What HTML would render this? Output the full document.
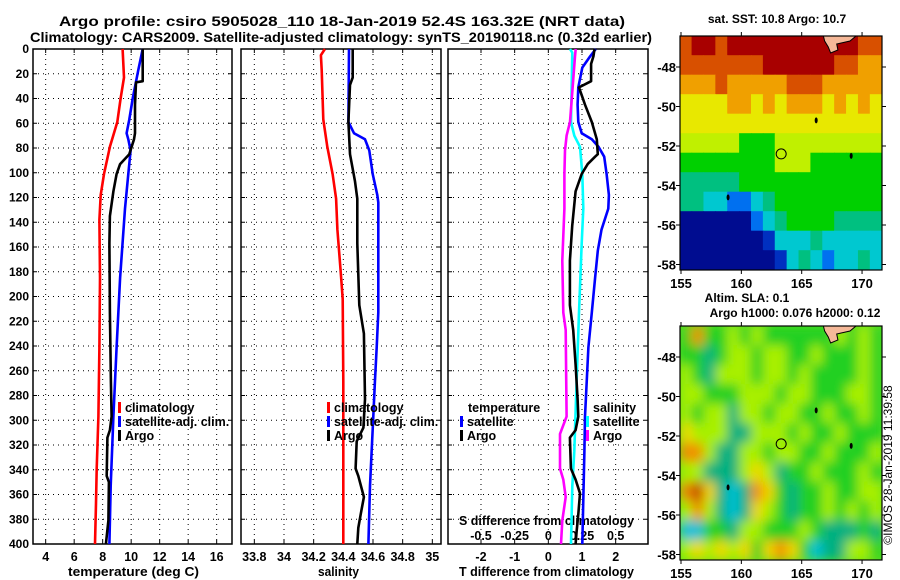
<!DOCTYPE html>
<html><head><meta charset="utf-8"><style>
body{margin:0;background:#fff;}
svg{display:block;font-family:"Liberation Sans",Arial,sans-serif;font-weight:bold;}
</style></head><body>
<svg id="chart" width="900" height="580" viewBox="0 0 900 580" xmlns="http://www.w3.org/2000/svg">
<defs>
<clipPath id="clipTop"><rect x="680" y="36" width="202" height="234"/></clipPath>
<clipPath id="clipBot"><rect x="680" y="326" width="202" height="234"/></clipPath>
<filter id="blur" x="-10%" y="-10%" width="120%" height="120%"><feGaussianBlur stdDeviation="5.5"/></filter>
</defs>
<g id="root"></g>
</svg>
<script>
// ---- data ----
const tempDepthClim=[0,23,40,59,79,101,118,138,185,241,297,339,367,400];
const tempClim=[9.40,9.50,9.26,9.03,8.51,8.09,7.86,7.77,7.81,7.77,7.70,7.58,7.53,7.46];
const tempDepthSat=[0,17,40,57,68,73,82,101,129,185,241,297,353,400];
const tempSat=[10.81,10.50,10.11,9.87,9.68,9.80,9.96,9.80,9.57,9.22,8.98,8.75,8.56,8.47];
const tempDepthArgo=[0,26,27,45,68,73,85,93,101,115,135,157,213,269,297,308,314,345,350,381,400];
const tempArgo=[10.81,10.81,10.34,10.27,10.27,10.20,9.87,9.22,8.98,8.75,8.51,8.47,8.51,8.58,8.63,8.51,8.33,8.28,8.44,8.40,8.23];

const salDepthClim=[0,5,17,57,79,101,121,146,180,202,269,400];
const salClim=[34.276,34.249,34.254,34.265,34.292,34.328,34.351,34.360,34.382,34.396,34.400,34.400];
const salDepthSat=[0,59,68,73,82,101,118,124,213,241,269,297,353,400];
const salSat=[34.438,34.434,34.472,34.546,34.575,34.598,34.629,34.636,34.636,34.625,34.613,34.602,34.580,34.569];
const salDepthArgo=[0,23,29,59,85,107,121,157,207,230,283,306,317,339,345,362,376,387,400];
const salArgo=[34.463,34.463,34.445,34.434,34.445,34.479,34.494,34.494,34.508,34.539,34.546,34.535,34.490,34.483,34.501,34.539,34.517,34.501,34.494];

const dTDepthSat=[0,6,15,31,45,59,68,73,79,87,101,118,129,146,163,185,213,241,269,297,325,400];
const dTSat=[1.41,1.24,1.01,0.89,0.87,0.89,0.99,1.29,1.49,1.66,1.73,1.80,1.78,1.58,1.47,1.39,1.29,1.19,1.14,1.09,1.07,1.01];
const dTDepthArgo=[0,6,12,26,31,45,59,73,85,87,93,101,115,143,171,207,227,255,283,297,308,314,339,348,359,376,390,400];
const dTArgo=[1.37,1.34,1.27,1.27,0.91,1.09,1.29,1.44,1.47,1.39,1.17,0.99,0.81,0.71,0.64,0.64,0.74,0.81,0.87,0.89,0.81,0.64,0.67,0.81,0.94,0.89,0.84,0.81];
const dSDepthSat=[0,3,59,70,79,101,129,157,213,269,325,353,400];
const dSSat=[0.161,0.178,0.168,0.193,0.235,0.252,0.260,0.248,0.228,0.210,0.193,0.178,0.168];
const dSDepthArgo=[0,6,59,70,82,101,129,171,213,227,297,311,339,348,362,381,400];
const dSArgo=[0.203,0.198,0.161,0.136,0.124,0.119,0.119,0.104,0.111,0.129,0.136,0.087,0.087,0.111,0.129,0.104,0.094];

const depthTicks=[0,20,40,60,80,100,120,140,160,180,200,220,240,260,280,300,320,340,360,380,400];
const tempTicks=[4,6,8,10,12,14,16];
const salTicks=[33.8,34,34.2,34.4,34.6,34.8,35];
const salTickLabels=["33.8","34","34.2","34.4","34.6","34.8","35"];
const dTTicks=[-2,-1,0,1,2];
const dSTicks=[-0.5,-0.25,0,0.25,0.5];
const dSTickLabels=["-0.5","-0.25","0","0.25","0.5"];
const lonTicks=[155,160,165,170];
const latTicks=[-48,-50,-52,-54,-56,-58];
const argoLon=163.3, argoLat=-52.4;

const sstRows=[
"ORRORRRRRRRRRRROO",
"OOOOOOORRRRRROOoo",
"oooOoooooOOOooooo",
"YYYYooYoYoooYoYoY",
"YYYYYYYYYYYYYYYYY",
"yyyyyGGGyyyyyyyyy",
"GGGGGGGGyyyGGGGGG",
"gggggGGGGGGGGGGGG",
"ggCCBBCgGGGGGGGGG",
"NNNNNNBCgGGGGgggg",
"NNNNNNNnCCCgCCCCC",
"NNNNNNNNnCgCBCCgC"];
const slaRows=[
"GOGGLGLGGGGGGLGLG",
"GGTGLLGLLGGLGGGLG",
"LGTLLLGLLGLGGGGLG",
"LLGGGLLLGLLGGGLLG",
"LGLLTLLGLLGGLGGLG",
"YLLLTTLLLGLGGLGGG",
"OOLTTLLGLLGGLGGGL",
"LLTTTLYLTGGLGGGLG",
"ORYTCTOYGTGGLGGLL",
"LOLTCTYLGTGGLGLGL",
"CCGGTLLGGGLGTTTGT",
"LYLYLYGYOYGCTTLLG"];
const sstColors={R:"#a80000",O:"#d85000",o:"#f0a000",Y:"#e8e800",y:"#c0f000",G:"#00d000",g:"#00c080",C:"#00c8d0",B:"#0070f0",n:"#0030c0",N:"#000c90"};
const slaColors={G:"#20d020",L:"#a8f000",Y:"#f0d800",O:"#f09000",R:"#c04000",T:"#00b080",C:"#00c0d8"};

// ---- helpers ----
const NS="http://www.w3.org/2000/svg";
const root=document.getElementById('root');
function el(tag,attrs,parent,text){const e=document.createElementNS(NS,tag);for(const k in attrs)e.setAttribute(k,attrs[k]);if(text!==undefined)e.textContent=text;(parent||root).appendChild(e);return e;}
const Y0=49,Y1=544;
const yD=d=>Y0+d*(Y1-Y0)/400;
const xT=t=>45.67+(t-4)*14.25;
const xS=s=>254.33+(s-33.8)*148.33;
const xDT=v=>548.33+v*33.67;
const xDS=v=>548.33+v*134.67;
const panels=[{x0:33,x1:232,name:'temperature-panel'},{x0:241,x1:441,name:'salinity-panel'},{x0:448,x1:648,name:'difference-panel'}];

function series(xs,ds,xf,color,name,parent){
  const pts=xs.map((v,i)=>xf(v).toFixed(1)+','+yD(ds[i]).toFixed(1)).join(' ');
  const p=el('polyline',{points:pts,fill:'none',stroke:color,'stroke-width':2.6,'stroke-linejoin':'round'},parent);
  
  
}

// titles
let t=el('text',{x:59,y:26,'font-size':13.5,textLength:566,lengthAdjust:'spacingAndGlyphs'},root,'Argo profile: csiro 5905028_110 18-Jan-2019 52.4S 163.32E (NRT data)');

t=el('text',{x:30,y:42,'font-size':13.5,textLength:622,lengthAdjust:'spacingAndGlyphs'},root,'Climatology: CARS2009. Satellite-adjusted climatology: synTS_20190118.nc (0.32d earlier)');


// panels
panels.forEach((p,pi)=>{
  const g=el('g',{},root);
  
  
  depthTicks.forEach(d=>{ if(d>0&&d<400) el('line',{x1:p.x0,x2:p.x1,y1:yD(d),y2:yD(d),stroke:'#000','stroke-width':1,'stroke-dasharray':'1,4'},g);
    el('line',{x1:p.x0,x2:p.x0+4,y1:yD(d),y2:yD(d),stroke:'#000'},g);
    el('line',{x1:p.x1-4,x2:p.x1,y1:yD(d),y2:yD(d),stroke:'#000'},g);});
  let xt=pi==0?tempTicks.map(xT):pi==1?salTicks.map(xS):dTTicks.map(xDT);
  xt.forEach(x=>{el('line',{x1:x,x2:x,y1:Y0,y2:Y1,stroke:'#000','stroke-dasharray':'1,4'},g);
    el('line',{x1:x,x2:x,y1:Y1-4,y2:Y1,stroke:'#000'},g);el('line',{x1:x,x2:x,y1:Y0,y2:Y0+4,stroke:'#000'},g);});
  el('rect',{x:p.x0,y:Y0,width:p.x1-p.x0,height:Y1-Y0,fill:'none',stroke:'#000','stroke-width':1.5},g);
});
// y axis labels
const ya=el('g',{},root);
depthTicks.forEach(d=>el('text',{x:29,y:yD(d)+4,'text-anchor':'end','font-size':12},ya,String(d)));

// x axes
function xAxis(ticks,labels,xf,y,name){const g=el('g',{},root);
  ticks.forEach((v,i)=>el('text',{x:xf(v),y:y,'text-anchor':'middle','font-size':12.5},g,labels[i]));}
xAxis(tempTicks,tempTicks.map(String),xT,561,'x-axis-temperature');
xAxis(salTicks,salTickLabels,xS,561,'x-axis-salinity');
xAxis(dTTicks,dTTicks.map(String),xDT,561,'x-axis-t-difference');
xAxis(dSTicks,dSTickLabels,xDS,540,'x-axis-s-difference');
const titles=[[68,576,'temperature (deg C)','x-axis-title-temperature',131],[318,576,'salinity','x-axis-title-salinity',41],[459,576,'T difference from climatology','x-axis-title-t-difference',175],[459,525,'S difference from climatology','x-axis-title-s-difference',175]];
titles.forEach(a=>{const e=el('text',{x:a[0],y:a[1],'font-size':12.5,textLength:a[4],lengthAdjust:'spacingAndGlyphs'},root,a[2]);});

// series
series(tempClim,tempDepthClim,xT,'#ff0000','temp-climatology-line');
series(tempSat,tempDepthSat,xT,'#0000ff','temp-satellite-line');
series(tempArgo,tempDepthArgo,xT,'#000000','temp-argo-line');
series(salClim,salDepthClim,xS,'#ff0000','sal-climatology-line');
series(salSat,salDepthSat,xS,'#0000ff','sal-satellite-line');
series(salArgo,salDepthArgo,xS,'#000000','sal-argo-line');
series(dSSat,dSDepthSat,xDS,'#00ffff','sdiff-satellite-line');
series(dSArgo,dSDepthArgo,xDS,'#ff00ff','sdiff-argo-line');
series(dTSat,dTDepthSat,xDT,'#0000ff','tdiff-satellite-line');
series(dTArgo,dTDepthArgo,xDT,'#000000','tdiff-argo-line');

// legends
function legend(x,y,color,label,name){const g=el('g',{},root);
  if(color) el('rect',{x:x,y:y-10,width:3,height:11,fill:color},g);
  el('text',{x:x+(color?7:0),y:y,'font-size':12.5},g,label);}
legend(118,412,'#ff0000','climatology','legend-temp-climatology');
legend(118,426,'#0000ff','satellite-adj. clim.','legend-temp-satellite');
legend(118,440,'#000000','Argo','legend-temp-argo');
legend(327,412,'#ff0000','climatology','legend-sal-climatology');
legend(327,426,'#0000ff','satellite-adj. clim.','legend-sal-satellite');
legend(327,440,'#000000','Argo','legend-sal-argo');
legend(468,412,null,'temperature','legend-temperature-header');
legend(460,426,'#0000ff','satellite','legend-tdiff-satellite');
legend(460,440,'#000000','Argo','legend-tdiff-argo');
legend(593,412,null,'salinity','legend-salinity-header');
legend(586,426,'#00ffff','satellite','legend-sdiff-satellite');
legend(586,440,'#ff00ff','Argo','legend-sdiff-argo');

// maps
function map(rows,colors,top,name,blur){
  const g=el('g',{},root);
  const x0=680,w=202,h=234;
  const lonX=lon=>681+(lon-155)*12.07;
  const latY=lat=>top+31+(-48-lat)*19.75;
  const cg=el('g',{'clip-path':'url(#'+(blur?'clipBot':'clipTop')+')'},g);
  if(blur) el('rect',{x:x0,y:top,width:w,height:h,fill:'#60e020'},cg);
  const inner=el('g',blur?{filter:'url(#blur)'}:{},cg);
  const cw=w/rows[0].length,rh=h/rows.length;
  rows.forEach((r,ri)=>{for(let ci=0;ci<r.length;ci++){
    const c=el('rect',{x:x0+ci*cw-0.3,y:top+ri*rh-0.3,width:cw+0.6,height:rh+0.6,fill:colors[r[ci]]},inner);
    
    }});
  el('path',{d:`M${lonX(166.8)},${top} L${lonX(169.5)},${top} L${lonX(169)},${top+5} L${lonX(167.9)},${top+8} L${lonX(168)},${top+14} L${lonX(167.4)},${top+17} L${lonX(167.2)},${top+11} L${lonX(166.9)},${top+5}Z`,fill:'#f5b898',stroke:'#000','stroke-width':1},cg);
  [[166.2,-50.7],[169.1,-52.5],[158.9,-54.6]].forEach(p=>el('ellipse',{cx:lonX(p[0]),cy:latY(p[1]),rx:1.5,ry:3,fill:'#000'},cg));
  el('rect',{x:x0,y:top,width:w,height:h,fill:'none',stroke:'#000','stroke-width':1.2},g);
  const c=el('circle',{cx:lonX(argoLon),cy:latY(argoLat),r:5,fill:'none',stroke:'#000','stroke-width':1},g);
  
  lonTicks.forEach(l=>{el('line',{x1:lonX(l),x2:lonX(l),y1:top+h,y2:top+h+4,stroke:'#000'},g);el('line',{x1:lonX(l),x2:lonX(l),y1:top,y2:top-4,stroke:'#000'},g);
    el('text',{x:lonX(l),y:top+h+18,'text-anchor':'middle','font-size':13},g,String(l));});
  latTicks.forEach(l=>{el('line',{x1:x0+w,x2:x0+w+4,y1:latY(l),y2:latY(l),stroke:'#000'},g);el('line',{x1:x0-4,x2:x0,y1:latY(l),y2:latY(l),stroke:'#000'},g);
    el('text',{x:x0-4,y:latY(l)+5,'text-anchor':'end','font-size':13},g,String(l));});
}
map(sstRows,sstColors,36,'sst-map',false);
map(slaRows,slaColors,326,'sla-map',true);
[[777,23,'sat. SST: 10.8 Argo: 10.7','sst-map-title'],[747,302,'Altim. SLA: 0.1','sla-map-title'],[795,317,'Argo h1000: 0.076 h2000: 0.12','sla-map-subtitle']].forEach(a=>{
  const e=el('text',{x:a[0],y:a[1],'text-anchor':'middle','font-size':12},root,a[2]);});
const ts=el('text',{x:0,y:0,'text-anchor':'middle','font-size':12,'font-weight':'normal',transform:'translate(892,465) rotate(-90)'},root,'©IMOS 28-Jan-2019 11:39:58');

</script>
</body></html>
